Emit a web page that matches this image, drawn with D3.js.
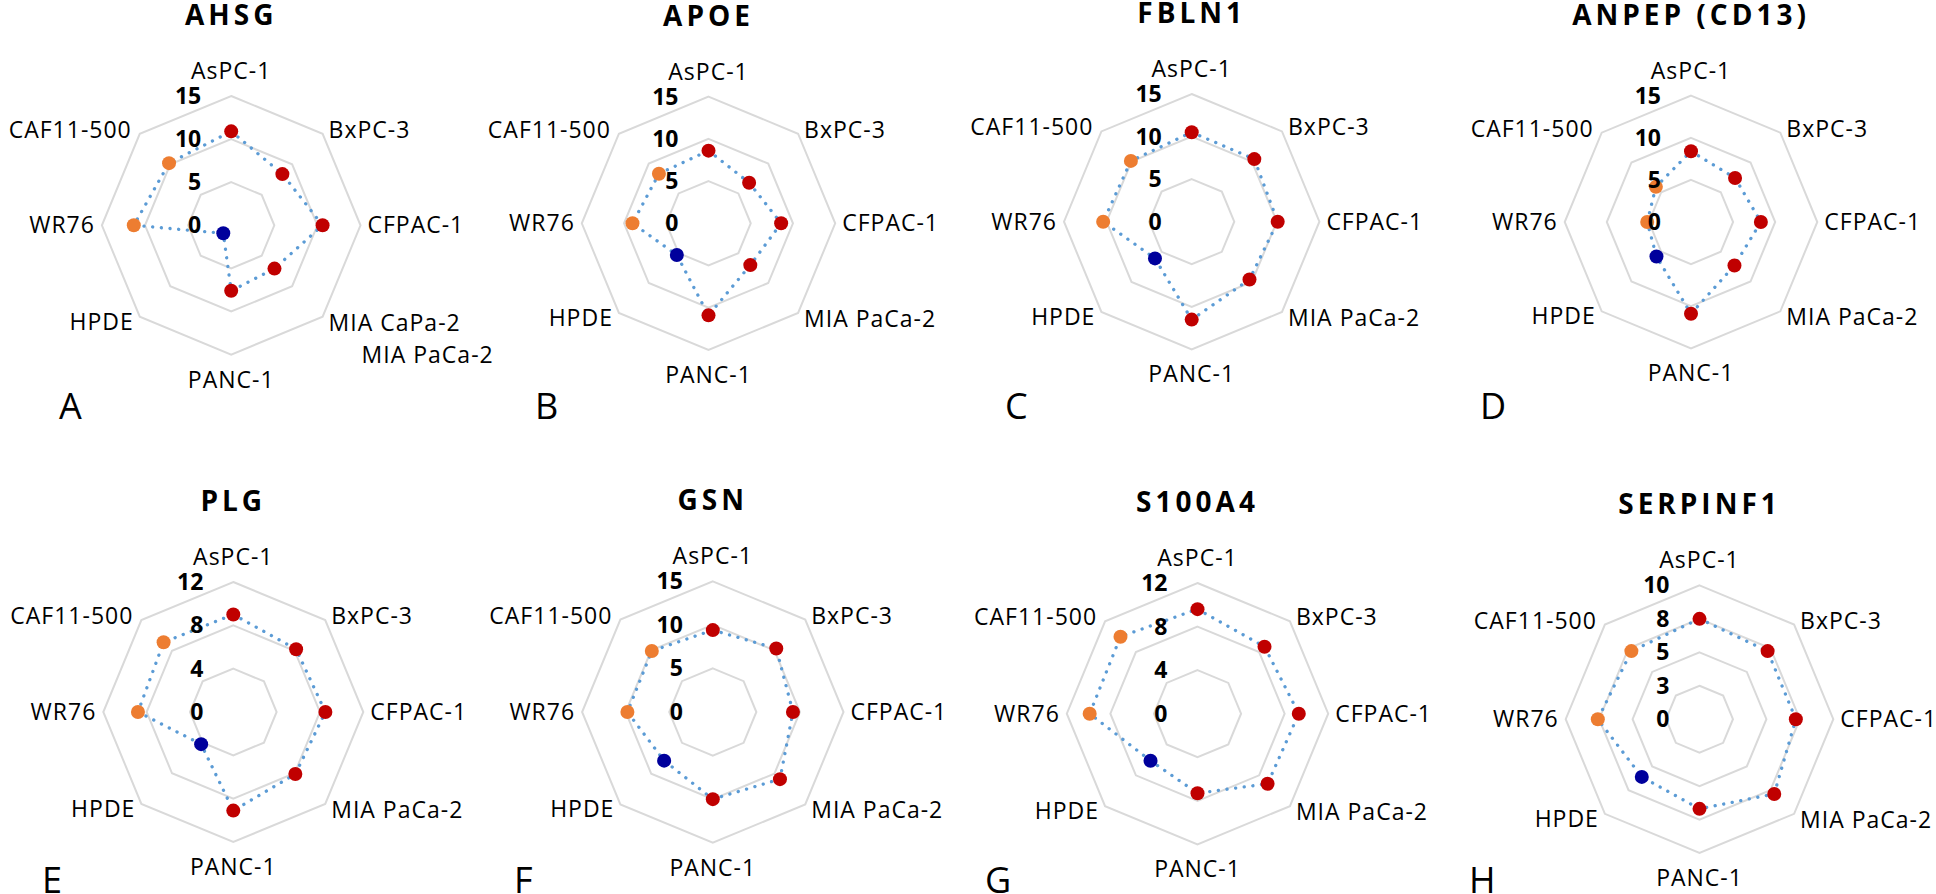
<!DOCTYPE html>
<html>
<head>
<meta charset="utf-8">
<title>Protein expression radar charts</title>
<script src="https://cdn.jsdelivr.net/npm/d3@7"></script>
<style>
  body { margin: 0; background: #fff; }
  text { font-family: "Open Sans", sans-serif; fill: #000; }
</style>
</head>
<body>
<div id="container"></div>
<script>
// cell lines, clockwise starting at the top
const categories = ["AsPC-1", "BxPC-3", "CFPAC-1", "MIA PaCa-2", "PANC-1", "HPDE", "WR76", "CAF11-500"];
const groups = ["cancer", "cancer", "cancer", "cancer", "cancer", "normal", "stroma", "stroma", "stroma"];
const proteins = ["AHSG", "APOE", "FBLN1", "ANPEP (CD13)", "PLG", "GSN", "S100A4", "SERPINF1"];
const panelLetters = ["A", "B", "C", "D", "E", "F", "G", "H"];

// values read per protein, same order as categories
const ahsg     = [10.9, 8.4, 10.6, 7.1, 7.6, 1.3, 11.3, 10.2];
const apoe     = [8.6, 6.8, 8.6, 7.0, 10.9, 5.3, 9.0, 8.3];
const fbln1    = [10.5, 10.4, 10.1, 9.6, 11.5, 6.1, 10.4, 10.1];
const anpep    = [8.4, 7.4, 8.3, 7.3, 10.9, 5.8, 5.2, 5.9];
const plg      = [9.0, 8.2, 8.5, 8.1, 9.1, 4.2, 8.8, 9.1];
const gsn      = [9.4, 10.3, 9.2, 10.9, 10.0, 7.9, 9.8, 9.9];
const s100a4   = [9.6, 8.7, 9.3, 9.1, 7.3, 6.1, 9.9, 10.0];
const serpinf1 = [7.5, 7.2, 7.2, 7.9, 6.7, 6.1, 7.6, 7.2];
const series = [ahsg, apoe, fbln1, anpep, plg, gsn, s100a4, serpinf1];

// radial axis ticks and their printed labels
const ticks15 = [0, 5, 10, 15];
const tickLabels15 = ["0", "5", "10", "15"];
const ticks12 = [0, 4, 8, 12];
const tickLabels12 = ["0", "4", "8", "12"];
const ticks10 = [0, 2.5, 5, 7.5, 10];
const tickLabels10 = ["0", "3", "5", "8", "10"];
const panelTicks = [ticks15, ticks15, ticks15, ticks15, ticks12, ticks15, ticks12, ticks10];
const panelTickLabels = [tickLabels15, tickLabels15, tickLabels15, tickLabels15,
                         tickLabels12, tickLabels15, tickLabels12, tickLabels10];

// panel A carries a mistyped label plus the corrected one underneath
const ahsgLabels = ["AsPC-1", "BxPC-3", "CFPAC-1", "MIA CaPa-2", "PANC-1", "HPDE", "WR76", "CAF11-500"];
const ahsgExtraLabel = "MIA PaCa-2";

// layout of the eight panels (centre, outer radius, letter position)
const layout = [
    {cx: 231.2, cy: 225.3, r: 129.3, lx: 59, ly: 419},
    {cx: 708.5, cy: 223.3, r: 126.7, lx: 535, ly: 419},
    {cx: 1191.7, cy: 221.7, r: 127.7, lx: 1005, ly: 419},
    {cx: 1691, cy: 222, r: 126.3, lx: 1480, ly: 419},
    {cx: 233.3, cy: 712, r: 130, lx: 42, ly: 893},
    {cx: 712.8, cy: 712, r: 130.7, lx: 514, ly: 893},
    {cx: 1197.5, cy: 713.7, r: 130.7, lx: 985, ly: 893},
    {cx: 1699.5, cy: 719.2, r: 133.8, lx: 1469, ly: 893}
];

const color = d3.scaleOrdinal()
    .domain(["cancer", "normal", "stroma"])
    .range(["#C00000", "#00009C", "#ED7D31"]);

const angle = d3.scalePoint()
    .domain(d3.range(categories.length + 1))
    .range([0, 2 * Math.PI]);

const svg = d3.select("#container")
    .append("svg")
    .attr("width", 1936)
    .attr("height", 894)
    .attr("viewBox", [0, 0, 1936, 894]);

const s45 = Math.SQRT1_2;

proteins.forEach(function (protein, p) {
    const L = layout[p];
    const ticks = panelTicks[p];
    const max = d3.max(ticks);
    const rScale = d3.scaleLinear().domain([0, max]).range([0, L.r]);
    const labels = p === 0 ? ahsgLabels : categories;

    const g = svg.append("g")
        .attr("transform", `translate(${L.cx},${L.cy})`);

    const radial = d3.lineRadial()
        .angle((d, i) => angle(i))
        .radius(d => rScale(d))
        .curve(d3.curveLinearClosed);

    // gridline octagons
    g.selectAll("path.ring")
        .data(ticks.filter(t => t > 0))
        .join("path")
        .attr("class", "ring")
        .attr("d", t => radial(categories.map(() => t)))
        .attr("fill", "none")
        .attr("stroke", "#D9D9D9")
        .attr("stroke-width", 2);

    // dotted series line
    g.append("path")
        .attr("d", radial(series[p]))
        .attr("fill", "none")
        .attr("stroke", "#5B9BD5")
        .attr("stroke-width", 3.3)
        .attr("stroke-linecap", "round")
        .attr("stroke-dasharray", "0.1,8.6");

    // markers
    g.selectAll("circle")
        .data(series[p])
        .join("circle")
        .attr("cx", (d, i) => rScale(d) * Math.sin(angle(i)))
        .attr("cy", (d, i) => -rScale(d) * Math.cos(angle(i)))
        .attr("r", 7)
        .attr("fill", (d, i) => color(groups[i]));

    // tick labels
    g.selectAll("text.tick")
        .data(ticks)
        .join("text")
        .attr("class", "tick")
        .attr("x", -30)
        .attr("y", t => -rScale(t))
        .attr("dy", "0.35em")
        .attr("text-anchor", "end")
        .style("font-size", "23px")
        .style("font-weight", "bold")
        .text((t, i) => panelTickLabels[p][i]);

    // category labels around the outer ring
    const R = L.r;
    const pos = [
        {x: 0, y: -R - 25, a: "middle"},
        {x: R * s45 + 6, y: -R * s45 - 4, a: "start"},
        {x: R + 7, y: 0, a: "start"},
        {x: R * s45 + 6, y: R * s45 + 6, a: "start"},
        {x: 0, y: R + 25, a: "middle"},
        {x: -R * s45 - 6, y: R * s45 + 5, a: "end"},
        {x: -R - 7, y: 0, a: "end"},
        {x: -R * s45 - 8, y: -R * s45 - 4, a: "end"}
    ];
    g.selectAll("text.cat")
        .data(labels)
        .join("text")
        .attr("class", "cat")
        .attr("x", (d, i) => pos[i].x)
        .attr("y", (d, i) => pos[i].y)
        .attr("dy", "0.35em")
        .attr("text-anchor", (d, i) => pos[i].a)
        .style("font-size", "23px")
        .style("letter-spacing", "1px")
        .text(d => d);

    if (p === 0) {
        g.append("text")
            .attr("x", pos[3].x + 33)
            .attr("y", pos[3].y + 32)
            .attr("dy", "0.35em")
            .style("font-size", "23px")
            .style("letter-spacing", "1px")
            .text(ahsgExtraLabel);
    }

    // title
    g.append("text")
        .attr("x", 0)
        .attr("y", -R - 71)
        .attr("text-anchor", "middle")
        .style("font-size", "28px")
        .style("font-weight", "bold")
        .style("letter-spacing", "4px")
        .text(protein);

    // panel letter
    svg.append("text")
        .attr("x", L.lx)
        .attr("y", L.ly)
        .style("font-size", "36px")
        .text(panelLetters[p]);
});
</script>
</body>
</html>
